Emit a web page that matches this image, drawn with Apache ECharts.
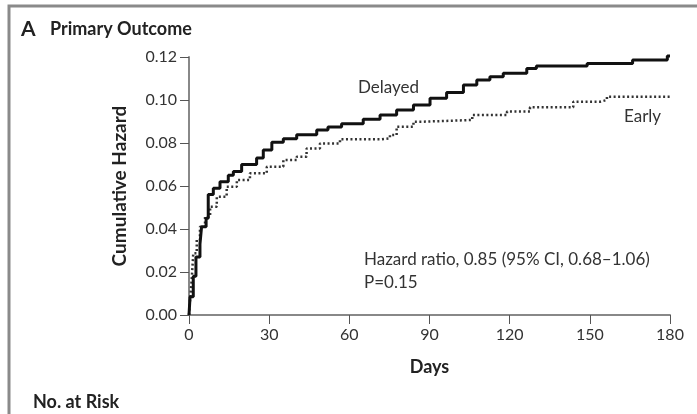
<!DOCTYPE html>
<html>
<head>
<meta charset="utf-8">
<script src="https://cdn.jsdelivr.net/npm/echarts@6/dist/echarts.min.js"></script>
<style>
  html, body { margin: 0; padding: 0; background: #fff; }
  #chart { width: 697px; height: 414px; }
</style>
</head>
<body>
<div id="chart"></div>
<script>
// cumulative hazard, [day, value]
const delayedData = [
    [0, 0], [0.4, 0.0085], [1.6, 0.018], [2.6, 0.027], [4.1, 0.033], [4.7, 0.041],
    [6.4, 0.045], [7.2, 0.056], [9.1, 0.059], [11.6, 0.062], [14.7, 0.065],
    [16.6, 0.0667], [19.7, 0.07], [25.3, 0.073], [27.8, 0.0767], [31, 0.0803],
    [35.3, 0.082], [40.3, 0.0838], [47.8, 0.086], [52, 0.0875], [57.1, 0.089],
    [65.2, 0.091], [71.5, 0.093], [77.7, 0.0953], [84, 0.0977], [90.2, 0.1008],
    [96.4, 0.1035], [102.7, 0.107], [107.7, 0.1093], [112.6, 0.1108],
    [117.6, 0.1125], [126.4, 0.1147], [130, 0.1158], [149, 0.117], [166, 0.1186],
    [179, 0.1205], [180, 0.1205]
];
const earlyData = [
    [0, 0], [0.4, 0.007], [1, 0.0163], [1.6, 0.0287], [2.9, 0.035], [4.1, 0.041],
    [6, 0.0457], [7.9, 0.0504], [10.4, 0.055], [14.1, 0.0597], [17.9, 0.0628],
    [22.8, 0.0659], [29.1, 0.069], [35.3, 0.0721], [40.3, 0.0736], [44, 0.0775],
    [49, 0.0798], [56.5, 0.0817], [71.5, 0.0822], [75.2, 0.0837], [77.7, 0.0876],
    [84, 0.0899], [87.6, 0.0907], [106, 0.093], [119, 0.0946], [127.6, 0.0966],
    [143.8, 0.0992], [153.8, 0.1], [156.4, 0.1015], [180, 0.1023]
];
const seriesNames = ['Delayed', 'Early'];
const xTicks = [0, 30, 60, 90, 120, 150, 180];
const yTicks = [0, 0.02, 0.04, 0.06, 0.08, 0.10, 0.12];

const FONT = 'Lato';
const TXT = '#333';

let chart = echarts.init(document.getElementById('chart'));

let option = {
    animation: false,
    backgroundColor: '#fff',
    textStyle: { fontFamily: FONT },
    grid: { left: 189, right: 27, top: 57, bottom: 99 },
    xAxis: {
        type: 'value',
        min: xTicks[0],
        max: xTicks[xTicks.length - 1],
        interval: xTicks[1] - xTicks[0],
        name: 'Days',
        nameLocation: 'middle',
        nameGap: 43,
        nameTextStyle: { fontFamily: FONT, fontSize: 18, fontWeight: 'bold', color: '#222' },
        axisLine: { show: true, lineStyle: { color: '#888', width: 2 } },
        axisTick: { show: true, length: 9, lineStyle: { color: '#555', width: 1 } },
        axisLabel: { margin: 12, fontSize: 16, color: TXT, fontFamily: FONT },
        splitLine: { show: false }
    },
    yAxis: {
        type: 'value',
        min: yTicks[0],
        max: yTicks[yTicks.length - 1],
        interval: yTicks[1] - yTicks[0],
        name: 'Cumulative Hazard',
        nameLocation: 'middle',
        nameGap: 60,
        nameRotate: 90,
        nameTextStyle: { fontFamily: FONT, fontSize: 19, fontWeight: 'bold', color: '#222' },
        axisLine: { show: true, lineStyle: { color: '#888', width: 2 } },
        axisTick: { show: true, length: 9, lineStyle: { color: '#555', width: 1 } },
        axisLabel: {
            margin: 12, fontSize: 16, color: TXT, fontFamily: FONT,
            formatter: function (val) { return val.toFixed(2); }
        },
        splitLine: { show: false }
    },
    series: [{
        name: seriesNames[0],
        type: 'line',
        step: 'end',
        showSymbol: false,
        clip: false,
        lineStyle: { color: '#111', width: 3 },
        data: delayedData,
        z: 3
    }, {
        name: seriesNames[1],
        type: 'line',
        step: 'end',
        showSymbol: false,
        clip: false,
        lineStyle: { color: '#333', width: 2.5, type: [2, 2.5] },
        data: earlyData,
        z: 2
    }],
    graphic: [
        // panel frame
        { type: 'polyline', shape: { points: [[9, 414], [9, 6], [697, 6]] },
          style: { stroke: '#8a8a8a', lineWidth: 3, fill: null } },
        { type: 'text', left: 21, top: 19,
          style: { text: 'A', font: 'bold 21px ' + FONT, fill: '#222' } },
        { type: 'text', left: 50, top: 20,
          style: { text: 'Primary Outcome', font: 'bold 18px ' + FONT, fill: '#222' } },
        { type: 'text', left: 358, top: 79,
          style: { text: seriesNames[0], font: '17px ' + FONT, fill: TXT } },
        { type: 'text', left: 624, top: 108,
          style: { text: seriesNames[1], font: '17px ' + FONT, fill: TXT } },
        { type: 'text', left: 364, top: 251,
          style: { text: 'Hazard ratio, 0.85 (95% CI, 0.68\u20131.06)', font: '17px ' + FONT, fill: TXT } },
        { type: 'text', left: 364, top: 274,
          style: { text: 'P=0.15', font: '17px ' + FONT, fill: TXT } },
        { type: 'text', left: 33, top: 393,
          style: { text: 'No. at Risk', font: 'bold 18px ' + FONT, fill: '#222' } }
    ]
};

chart.setOption(option);
</script>
</body>
</html>
